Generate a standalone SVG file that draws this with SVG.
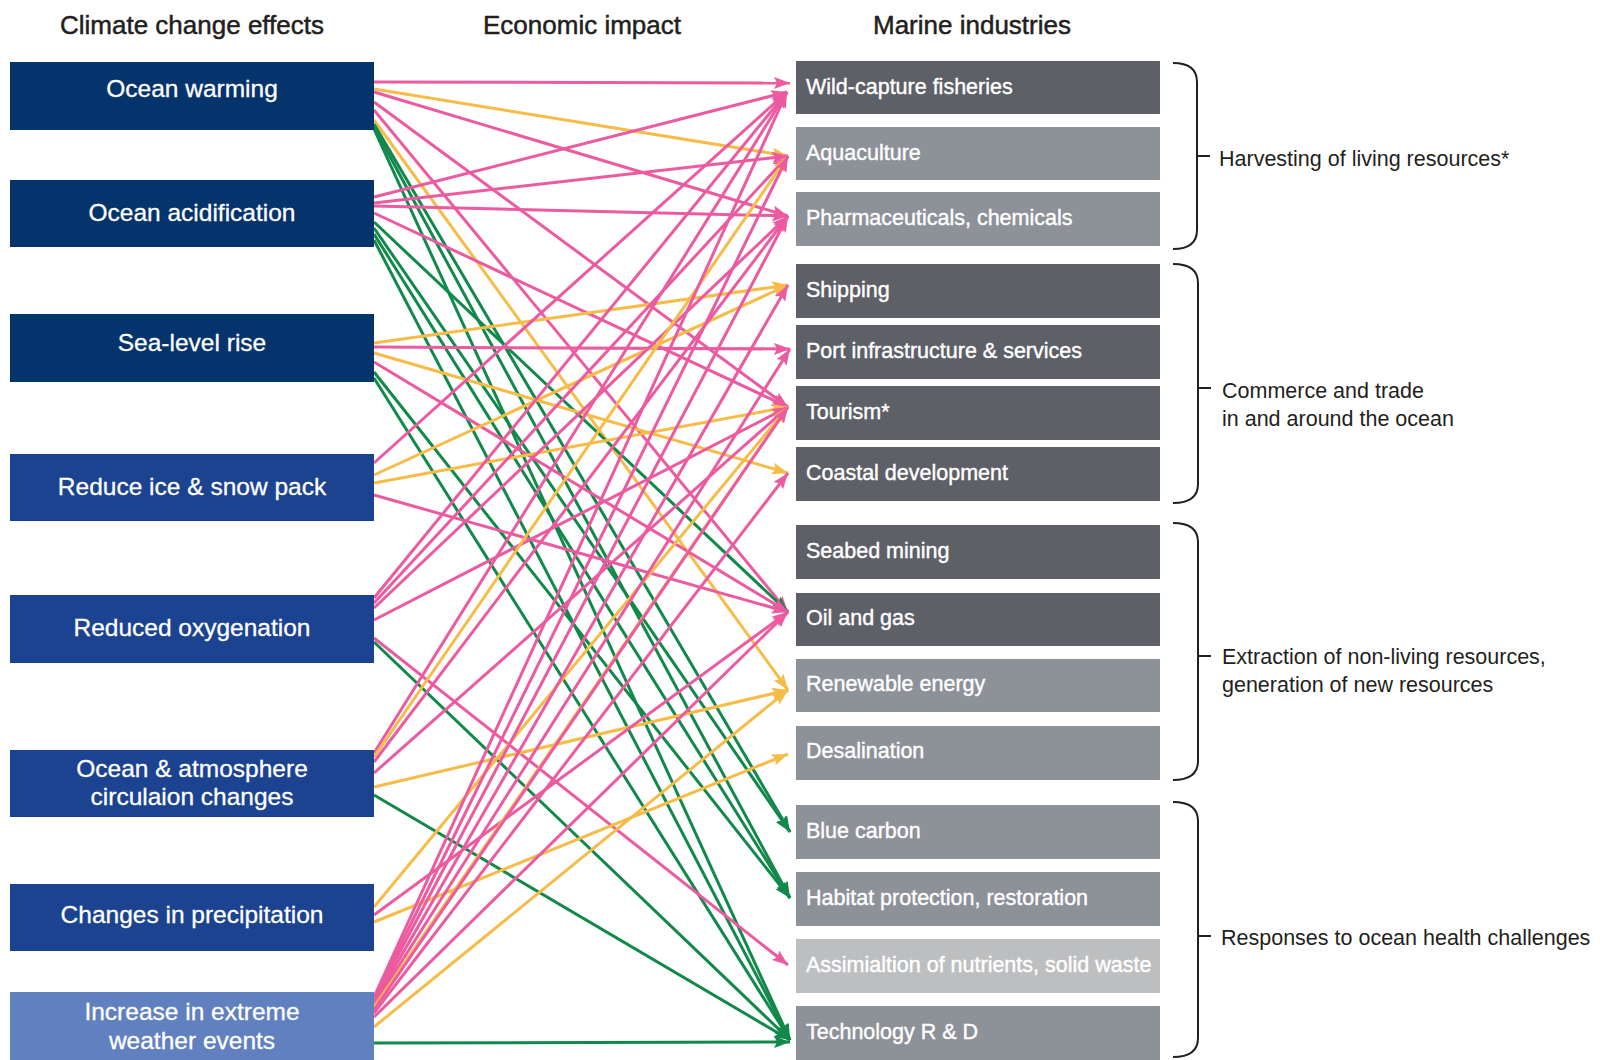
<svg xmlns="http://www.w3.org/2000/svg" width="1600" height="1060" viewBox="0 0 1600 1060">
<style>
.hdr{font-family:"Liberation Sans",Arial,sans-serif;font-size:26px;fill:#231f20;text-anchor:middle;stroke:#231f20;stroke-width:0.5}
.src{font-family:"Liberation Sans",Arial,sans-serif;font-size:24.5px;fill:#fff;text-anchor:middle;stroke:#fff;stroke-width:0.3}
.tgt{font-family:"Liberation Sans",Arial,sans-serif;font-size:21.5px;fill:#fff;stroke:#fff;stroke-width:0.4}
.lbl{font-family:"Liberation Sans",Arial,sans-serif;font-size:21.5px;fill:#231f20}
.navy{fill:#05336b}.blue{fill:#1b4390}.lblue{fill:#6180bf}
.dk{fill:#5d6066}.md{fill:#8d9198}.lt{fill:#bdbec0}
.br{fill:none;stroke:#231f20;stroke-width:2}
.p{stroke:#ec5aa0;stroke-width:3;marker-end:url(#ap)}
.y{stroke:#f7bc48;stroke-width:3;marker-end:url(#ay)}
.g{stroke:#11894a;stroke-width:3;marker-end:url(#ag)}
</style>
<defs>
<marker id="ap" markerUnits="userSpaceOnUse" markerWidth="18" markerHeight="12" refX="16" refY="6" orient="auto"><path d="M0,0 L16,6 L0,12 L3,6 Z" fill="#ec5aa0"/></marker>
<marker id="ay" markerUnits="userSpaceOnUse" markerWidth="18" markerHeight="12" refX="16" refY="6" orient="auto"><path d="M0,0 L16,6 L0,12 L3,6 Z" fill="#f7bc48"/></marker>
<marker id="ag" markerUnits="userSpaceOnUse" markerWidth="18" markerHeight="12" refX="16" refY="6" orient="auto"><path d="M0,0 L16,6 L0,12 L3,6 Z" fill="#11894a"/></marker>
</defs>
<rect width="1600" height="1060" fill="#fff"/>
<g id="headers">
<text class="hdr" x="192" y="34">Climate change effects</text>
<text class="hdr" x="582" y="34">Economic impact</text>
<text class="hdr" x="972" y="34">Marine industries</text>
</g>
<g id="connectors">
<!-- Ocean warming -->
<line class="p" x1="374" y1="82" x2="790" y2="83"/>
<line class="y" x1="374" y1="89" x2="788" y2="156"/>
<line class="p" x1="374" y1="92" x2="788" y2="216"/>
<line class="p" x1="374" y1="102" x2="788" y2="407"/>
<line class="p" x1="374" y1="110" x2="788" y2="612"/>
<line class="y" x1="374" y1="120" x2="788" y2="690"/>
<line class="g" x1="374" y1="124" x2="790" y2="832"/>
<line class="g" x1="374" y1="127" x2="790" y2="898"/>
<line class="g" x1="374" y1="129" x2="790" y2="1040"/>
<!-- Ocean acidification -->
<line class="p" x1="374" y1="197" x2="787" y2="92"/>
<line class="p" x1="374" y1="203" x2="788" y2="156"/>
<line class="p" x1="374" y1="206" x2="788" y2="216"/>
<line class="p" x1="374" y1="213" x2="788" y2="407"/>
<line class="g" x1="374" y1="222" x2="788" y2="612"/>
<line class="g" x1="374" y1="228" x2="790" y2="832"/>
<line class="g" x1="374" y1="234" x2="790" y2="898"/>
<line class="g" x1="374" y1="240" x2="790" y2="1040"/>
<!-- Sea-level rise -->
<line class="y" x1="374" y1="343" x2="788" y2="285"/>
<line class="p" x1="374" y1="347" x2="790" y2="349"/>
<line class="y" x1="374" y1="353" x2="788" y2="473"/>
<line class="p" x1="374" y1="362" x2="788" y2="612"/>
<line class="g" x1="374" y1="372" x2="790" y2="898"/>
<line class="g" x1="374" y1="378" x2="790" y2="1040"/>
<!-- Reduce ice & snow pack -->
<line class="p" x1="374" y1="463" x2="787" y2="92"/>
<line class="y" x1="374" y1="475" x2="788" y2="285"/>
<line class="y" x1="374" y1="483" x2="788" y2="407"/>
<line class="p" x1="374" y1="495" x2="788" y2="612"/>
<!-- Reduced oxygenation -->
<line class="p" x1="374" y1="598" x2="787" y2="92"/>
<line class="p" x1="374" y1="603" x2="788" y2="156"/>
<line class="p" x1="374" y1="608" x2="788" y2="216"/>
<line class="p" x1="374" y1="620" x2="788" y2="407"/>
<line class="p" x1="374" y1="638" x2="788" y2="965"/>
<line class="g" x1="374" y1="642" x2="790" y2="1040"/>
<!-- Ocean & atmosphere circulation -->
<line class="p" x1="374" y1="753" x2="787" y2="92"/>
<line class="y" x1="374" y1="757" x2="788" y2="156"/>
<line class="p" x1="374" y1="762" x2="788" y2="216"/>
<line class="p" x1="374" y1="773" x2="788" y2="407"/>
<line class="y" x1="374" y1="787" x2="788" y2="690"/>
<line class="g" x1="374" y1="795" x2="790" y2="1040"/>
<!-- Changes in precipitation -->
<line class="y" x1="374" y1="907" x2="788" y2="407"/>
<line class="p" x1="374" y1="915" x2="788" y2="612"/>
<line class="y" x1="374" y1="922" x2="788" y2="754"/>
<!-- Increase in extreme weather events -->
<line class="p" x1="374" y1="997" x2="787" y2="92"/>
<line class="p" x1="374" y1="999" x2="788" y2="156"/>
<line class="p" x1="374" y1="1001" x2="788" y2="216"/>
<line class="p" x1="374" y1="1003" x2="788" y2="285"/>
<line class="p" x1="374" y1="1005" x2="790" y2="349"/>
<line class="y" x1="374" y1="1007" x2="788" y2="407"/>
<line class="p" x1="374" y1="1010" x2="788" y2="407"/>
<line class="p" x1="374" y1="1013" x2="788" y2="473"/>
<line class="p" x1="374" y1="1017" x2="788" y2="612"/>
<line class="y" x1="374" y1="1027" x2="788" y2="690"/>
<line class="g" x1="374" y1="1043" x2="790" y2="1042"/>
</g>
<g id="src-ocean-warming"><rect class="navy" x="10" y="62" width="364" height="68"/><text class="src" x="192" y="97">Ocean warming</text></g>
<g id="src-ocean-acidification"><rect class="navy" x="10" y="180" width="364" height="67"/><text class="src" x="192" y="221">Ocean acidification</text></g>
<g id="src-sea-level-rise"><rect class="navy" x="10" y="314" width="364" height="68"/><text class="src" x="192" y="351">Sea-level rise</text></g>
<g id="src-reduce-ice"><rect class="blue" x="10" y="454" width="364" height="67"/><text class="src" x="192" y="495">Reduce ice &amp; snow pack</text></g>
<g id="src-reduced-oxygenation"><rect class="blue" x="10" y="595" width="364" height="68"/><text class="src" x="192" y="636">Reduced oxygenation</text></g>
<g id="src-circulation"><rect class="blue" x="10" y="750" width="364" height="67"/><text class="src" x="192" y="777">Ocean &amp; atmosphere</text><text class="src" x="192" y="805">circulaion changes</text></g>
<g id="src-precipitation"><rect class="blue" x="10" y="884" width="364" height="67"/><text class="src" x="192" y="923">Changes in precipitation</text></g>
<g id="src-extreme-weather"><rect class="lblue" x="10" y="992" width="364" height="68"/><text class="src" x="192" y="1020">Increase in extreme</text><text class="src" x="192" y="1049">weather events</text></g>

<g id="tgt-wild-capture"><rect class="dk" x="796" y="61" width="364" height="53"/><text class="tgt" x="806" y="94">Wild-capture fisheries</text></g>
<g id="tgt-aquaculture"><rect class="md" x="796" y="127" width="364" height="53"/><text class="tgt" x="806" y="160">Aquaculture</text></g>
<g id="tgt-pharmaceuticals"><rect class="md" x="796" y="192" width="364" height="54"/><text class="tgt" x="806" y="225">Pharmaceuticals, chemicals</text></g>
<g id="tgt-shipping"><rect class="dk" x="796" y="264" width="364" height="54"/><text class="tgt" x="806" y="297">Shipping</text></g>
<g id="tgt-port"><rect class="dk" x="796" y="325" width="364" height="54"/><text class="tgt" x="806" y="358">Port infrastructure &amp; services</text></g>
<g id="tgt-tourism"><rect class="dk" x="796" y="386" width="364" height="54"/><text class="tgt" x="806" y="419">Tourism*</text></g>
<g id="tgt-coastal"><rect class="dk" x="796" y="447" width="364" height="54"/><text class="tgt" x="806" y="480">Coastal development</text></g>
<g id="tgt-seabed"><rect class="dk" x="796" y="525" width="364" height="54"/><text class="tgt" x="806" y="558">Seabed mining</text></g>
<g id="tgt-oil-gas"><rect class="dk" x="796" y="593" width="364" height="53"/><text class="tgt" x="806" y="625">Oil and gas</text></g>
<g id="tgt-renewable"><rect class="md" x="796" y="659" width="364" height="53"/><text class="tgt" x="806" y="691">Renewable energy</text></g>
<g id="tgt-desalination"><rect class="md" x="796" y="726" width="364" height="54"/><text class="tgt" x="806" y="758">Desalination</text></g>
<g id="tgt-blue-carbon"><rect class="md" x="796" y="805" width="364" height="54"/><text class="tgt" x="806" y="838">Blue carbon</text></g>
<g id="tgt-habitat"><rect class="md" x="796" y="872" width="364" height="54"/><text class="tgt" x="806" y="905">Habitat protection, restoration</text></g>
<g id="tgt-assimilation"><rect class="lt" x="796" y="939" width="364" height="54"/><text class="tgt" x="806" y="972">Assimialtion of nutrients, solid waste</text></g>
<g id="tgt-technology"><rect class="md" x="796" y="1006" width="364" height="54"/><text class="tgt" x="806" y="1039">Technology R &amp; D</text></g>

<g id="group-harvesting"><path class="br" d="M1173,63 Q1197,63 1197,82 L1197,230 Q1197,249 1173,249 M1197,156 H1210"/><text class="lbl" x="1219" y="166">Harvesting of living resources*</text></g>
<g id="group-commerce"><path class="br" d="M1173,264 Q1198,264 1198,283 L1198,484 Q1198,503 1173,503 M1198,388 H1211"/><text class="lbl" x="1222" y="398">Commerce and trade</text><text class="lbl" x="1222" y="426">in and around the ocean</text></g>
<g id="group-extraction"><path class="br" d="M1173,523 Q1198,523 1198,542 L1198,761 Q1198,780 1173,780 M1198,656 H1211"/><text class="lbl" x="1222" y="664">Extraction of non-living resources,</text><text class="lbl" x="1222" y="692">generation of new resources</text></g>
<g id="group-responses"><path class="br" d="M1173,802 Q1198,802 1198,821 L1198,1038 Q1198,1057 1173,1057 M1198,936 H1211"/><text class="lbl" x="1221" y="945">Responses to ocean health challenges</text></g>
</svg>
